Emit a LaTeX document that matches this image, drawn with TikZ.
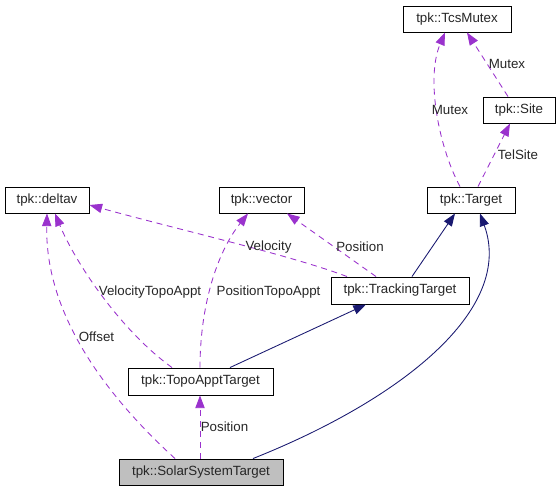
\documentclass[tikz,border=0pt]{standalone}
\usepackage{fontspec}
\setmainfont{Liberation Sans}
\usetikzlibrary{arrows.meta}
\definecolor{edgepurple}{HTML}{9A32CD}
\definecolor{edgenavy}{HTML}{191970}
\definecolor{boxgrey}{HTML}{BFBFBF}
\begin{document}
\begin{tikzpicture}[x=0.75pt,y=-0.75pt,
  cls/.style={draw=black,line width=0.7pt,fill=white,inner sep=0pt,minimum height=19.5pt,font=\fontsize{10}{12}\selectfont,text=black!85},
  usage/.style={edgepurple,line width=0.65pt,dash pattern=on 4.5pt off 3.5pt,-{Triangle[length=9.5pt,width=7pt]}},
  inherit/.style={edgenavy,line width=0.65pt,-{Triangle[length=9.5pt,width=7pt]}},
  lbl/.style={font=\fontsize{10}{12}\selectfont,text=black!85,inner sep=0pt}]
\useasboundingbox (0,0) rectangle (560,490);
% nodes
\node[cls,minimum width=81pt] (tcs) at (457,19) {tpk::TcsMutex};
\node[cls,minimum width=54pt] (site) at (519,110) {tpk::Site};
\node[cls,minimum width=66pt] (target) at (471,200) {tpk::Target};
\node[cls,minimum width=63pt] (deltav) at (47,200) {tpk::deltav};
\node[cls,minimum width=63.75pt] (vector) at (261.5,200) {tpk::vector};
\node[cls,minimum width=103.5pt,minimum height=20.25pt] (track) at (400,290.5) {tpk::TrackingTarget};
\node[cls,minimum width=108.75pt,minimum height=20.25pt] (topo) at (200.5,381.5) {tpk::TopoApptTarget};
\node[cls,minimum width=123pt,fill=boxgrey] (sst) at (201,472) {tpk::SolarSystemTarget};
% inheritance edges
\draw[inherit] (topo.north -| 230,0) -- (track.south -| 366,0);
\draw[inherit] (track.north -| 412,0) -- (target.south -| 455,0);
\draw[inherit] (sst.north -| 253,0) .. controls (400,400) and (515,310) .. (target.south -| 480,0);
% usage edges
\draw[usage] (sst.north -| 200,0) -- (topo.south -| 200,0);
\node[lbl] (lpos1) at (224.5,427) {Position};
\draw[usage] (sst.north -| 175,0) .. controls (100,390) and (45,310) .. (deltav.south -| 47,0);
\node[lbl] (loff) at (96.5,337) {Offset};
\draw[usage] (topo.north -| 172,0) .. controls (120,330) and (75,262) .. (deltav.south -| 55,0);
\node[lbl] (lvta) at (150,292) {VelocityTopoAppt};
\draw[usage] (topo.north -| 200,0) .. controls (200,310) and (215,255) .. (vector.south -| 248,0);
\node[lbl] (lpta) at (268.5,292) {PositionTopoAppt};
\draw[usage] (track.north -| 347,0) .. controls (290,255) and (180,230) .. (deltav.east |- 0,205);
\node[lbl] (lvel) at (268.5,247) {Velocity};
\draw[usage] (track.north -| 376,0) -- (vector.south -| 287,0);
\node[lbl] (lpos2) at (360,247) {Position};
\draw[usage] (target.north -| 460,0) .. controls (440,150) and (425,80) .. (tcs.south -| 445,0);
\node[lbl] (lmut1) at (450,110) {Mutex};
\draw[usage] (target.north -| 478,0) -- (site.south -| 510,0);
\node[lbl] (ltel) at (518,155) {TelSite};
\draw[usage] (site.north -| 508,0) -- (tcs.south -| 467,0);
\node[lbl] (lmut2) at (507,64) {Mutex};
\end{tikzpicture}
\end{document}
